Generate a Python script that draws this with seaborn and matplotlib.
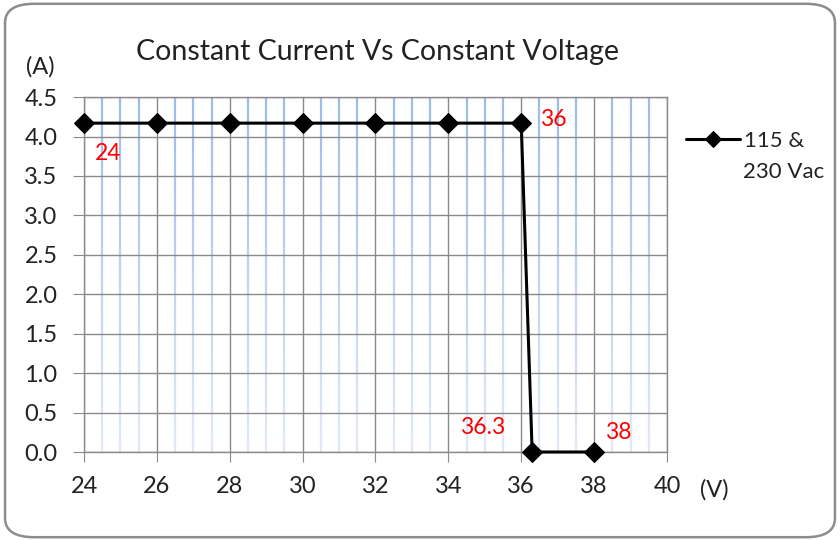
import numpy as np
import pandas as pd
import seaborn as sns
import matplotlib.pyplot as plt
from matplotlib.patches import FancyBboxPatch
from matplotlib.collections import LineCollection
from matplotlib.colors import to_rgb

# data
volts = [24, 26, 28, 30, 32, 34, 36, 36.3, 38]
amps = [4.17, 4.17, 4.17, 4.17, 4.17, 4.17, 4.17, 0.0, 0.0]
series_name = ["115 &", "230 Vac"]
point_labels = ["24", "36", "36.3", "38"]
label_pos = [(24.30, 3.78), (36.51, 4.22), (34.32, 0.31), (38.30, 0.25)]

df = pd.DataFrame({"V": volts, "A": amps})

sns.set_style("white")
plt.rcParams['font.family'] = ['Lato', 'DejaVu Sans']

fig = plt.figure(figsize=(8.4, 5.41), dpi=100)
ax = fig.add_axes([0.1, 0.1645, 0.694, 0.656])

# rounded outer frame
frame = FancyBboxPatch((0.006, 0.007), 0.988, 0.986, boxstyle="round,pad=0,rounding_size=0.035",
                       transform=fig.transFigure, fill=False, edgecolor="#8c8c8c", linewidth=1.8)
fig.patches.append(frame)

# minor vertical grid, blue fading to pale towards the bottom
top_c = np.array(to_rgb("#9dbbe8"))
bot_c = np.array(to_rgb("#e2eaf7"))
ys = np.linspace(0, 4.5, 46)
segs, cols = [], []
for xm in np.arange(24.5, 40, 0.5):
    if xm % 2 == 0:
        continue
    for y0, y1 in zip(ys[:-1], ys[1:]):
        segs.append([(xm, y0), (xm, y1)])
        t = ((y0 + y1) / 2) / 4.5
        cols.append(bot_c + (top_c - bot_c) * t)
ax.add_collection(LineCollection(segs, colors=cols, linewidths=1.6, zorder=0.5, capstyle="butt"))

sns.lineplot(data=df, x="V", y="A", color="black", marker="D", markersize=10.5,
             linewidth=2.2, markeredgecolor="black", ax=ax, sort=False, zorder=5,
             label=series_name[0], clip_on=False)

ax.set_xlim(24, 40)
ax.set_ylim(0, 4.5)
ax.set_xticks(np.arange(24, 41, 2))
ax.set_yticks(np.arange(0, 4.51, 0.5))
ax.set_yticklabels([f"{v:.1f}" for v in np.arange(0, 4.51, 0.5)])
ax.grid(which="major", axis="x", color="#8a8a8a", linewidth=1.0, zorder=1)
ax.grid(which="major", axis="y", color="#8a8a8a", linewidth=1.0, zorder=1)
ax.set_axisbelow(True)
for s in ax.spines.values():
    s.set_color("#8a8a8a")
    s.set_linewidth(1.0)
ax.tick_params(axis="both", which="major", labelsize=17, color="#8a8a8a", direction="out",
               labelcolor="#222222")
ax.tick_params(axis="x", which="major", length=7, pad=10)
ax.tick_params(axis="y", which="major", length=8, pad=11)
ax.tick_params(left=True, bottom=True)
ax.set_xlabel("")
ax.set_ylabel("")

# red point labels
for txt, (x, y) in zip(point_labels, label_pos):
    ax.text(x, y, txt, color="#ff0000", fontsize=16.5, ha="left", va="center")

fig.text(0.45, 0.904, "Constant Current Vs Constant Voltage", ha="center", va="center", fontsize=20.5,
         color="#222222")
fig.text(0.048, 0.876, "(A)", ha="center", va="center", fontsize=17, color="#222222")
fig.text(0.85, 0.094, "(V)", ha="center", va="center", fontsize=17, color="#222222")

leg = ax.legend(loc="center left", bbox_to_anchor=(686 / 840, 1 - 141 / 541), bbox_transform=fig.transFigure,
                frameon=False, fontsize=16, handlelength=2.45, handletextpad=0.15, borderpad=0,
                borderaxespad=0, markerscale=0.75)
fig.text(743 / 840, 1 - 172 / 541, series_name[1], ha="left", va="center", fontsize=16, color="#222222")

fig.savefig("out.png", dpi=100)
